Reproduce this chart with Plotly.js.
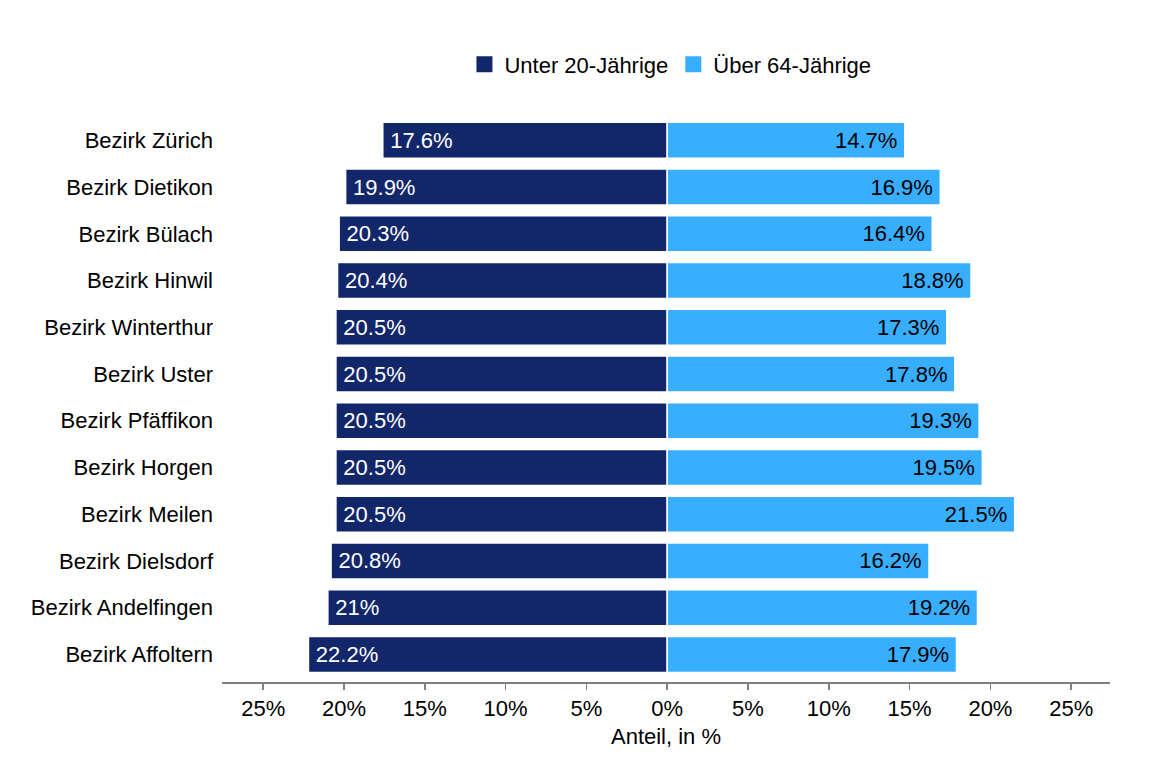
<!DOCTYPE html>
<html>
<head>
<meta charset="utf-8">
<script src="https://cdn.plot.ly/plotly-3.0.1.min.js"></script>
<style>html,body{margin:0;padding:0;background:#fff;}#chart{width:1152px;height:768px;}</style>
</head>
<body>
<div id="chart"></div>
<script>
const districts = ["Bezirk Zürich","Bezirk Dietikon","Bezirk Bülach","Bezirk Hinwil","Bezirk Winterthur","Bezirk Uster","Bezirk Pfäffikon","Bezirk Horgen","Bezirk Meilen","Bezirk Dielsdorf","Bezirk Andelfingen","Bezirk Affoltern"];
const under20 = [17.6,19.9,20.3,20.4,20.5,20.5,20.5,20.5,20.5,20.8,21,22.2];
const over64 = [14.7,16.9,16.4,18.8,17.3,17.8,19.3,19.5,21.5,16.2,19.2,17.9];
const seriesNames = ["Unter 20-Jährige","Über 64-Jährige"];
const tickValues = [-25,-20,-15,-10,-5,0,5,10,15,20,25];
const tickLabels = ["25%","20%","15%","10%","5%","0%","5%","10%","15%","20%","25%"];

const colors = ["#12266a", "#38aeff"];
const fam = "Liberation Sans, Arial, sans-serif";
const font = {family: fam, size: 22, color: "#000"};
const pad = "\u2009";

const traces = [
  {
    type: "bar", orientation: "h", name: seriesNames[0], showlegend: false,
    y: districts, x: under20.map(v => -v),
    text: under20.map(v => pad + v + "%"),
    textposition: "inside", insidetextanchor: "end",
    textfont: {family: fam, size: 22, color: "#ffffff"},
    marker: {color: colors[0], line: {color: "#ffffff", width: 1.5}},
    hoverinfo: "skip"
  },
  {
    type: "bar", orientation: "h", name: seriesNames[1], showlegend: false,
    y: districts, x: over64,
    text: over64.map(v => v + "%" + pad),
    textposition: "inside", insidetextanchor: "end",
    textfont: {family: fam, size: 22, color: "#000000"},
    marker: {color: colors[1], line: {color: "#ffffff", width: 1.5}},
    hoverinfo: "skip"
  },
  {
    type: "scatter", mode: "markers", name: seriesNames[0],
    x: [null], y: [null],
    marker: {symbol: "square", size: 16, color: colors[0]},
    hoverinfo: "skip"
  },
  {
    type: "scatter", mode: "markers", name: seriesNames[1],
    x: [null], y: [null],
    marker: {symbol: "square", size: 16, color: colors[1]},
    hoverinfo: "skip"
  }
];

const layout = {
  width: 1152, height: 768,
  margin: {l: 222, r: 42, t: 117, b: 86},
  paper_bgcolor: "#fff", plot_bgcolor: "#fff",
  font: font,
  barmode: "relative",
  bargap: 0.23,
  showlegend: true,
  legend: {orientation: "h", x: 0.505, xanchor: "center", y: 1.093, yanchor: "middle", font: font, traceorder: "normal", itemclick: false},
  xaxis: {
    range: [-27.55, 27.4],
    tickvals: tickValues, ticktext: tickLabels,
    showgrid: false, zeroline: false,
    showline: true, linecolor: "#7f7f7f", linewidth: 1.5,
    ticks: "outside", ticklen: 6, tickcolor: "#7f7f7f", tickwidth: 1.5,
    tickfont: font,
    title: {text: "Anteil, in %", font: font, standoff: 8}
  },
  yaxis: {
    type: "category",
    range: [11.59, -0.5],
    showgrid: false, zeroline: false, showline: false,
    ticks: "", tickfont: font, ticklabelstandoff: 8
  }
};

Plotly.newPlot("chart", traces, layout, {displayModeBar: false, staticPlot: true});
</script>
</body>
</html>
